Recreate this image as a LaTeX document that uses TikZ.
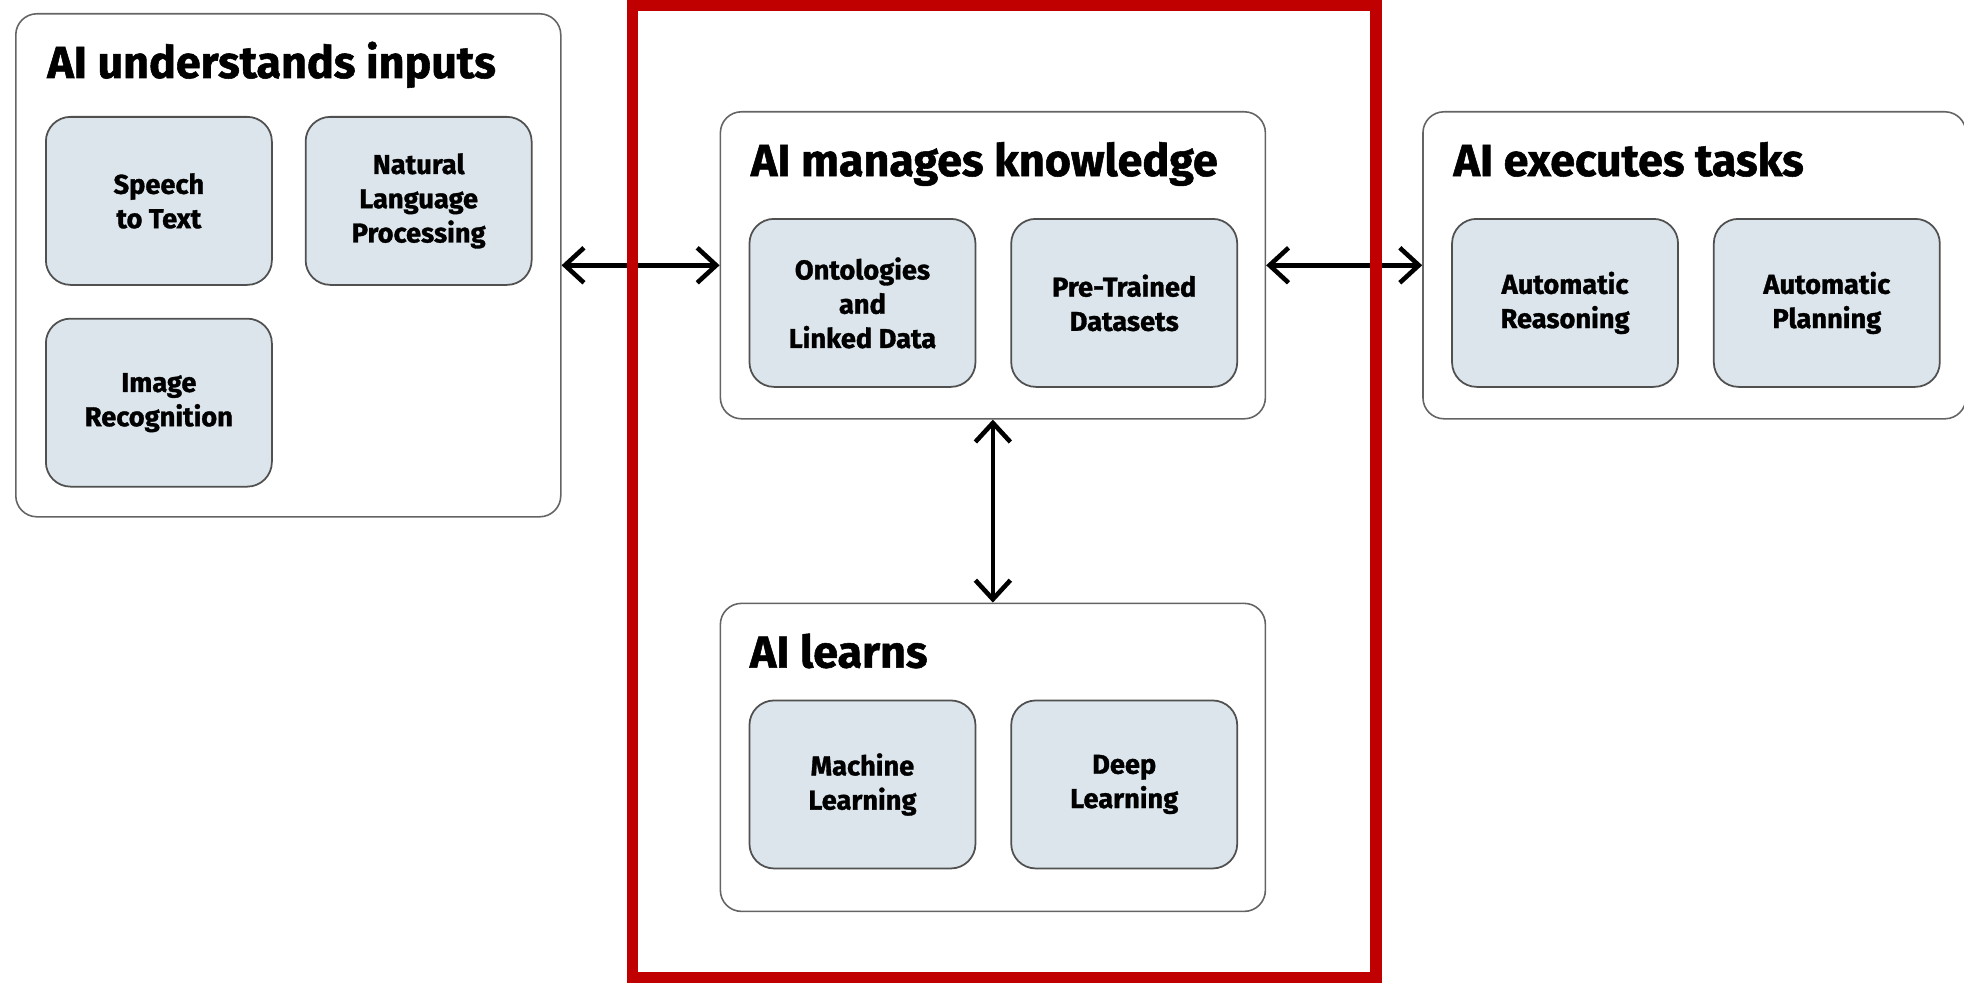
\documentclass[tikz,border=0pt]{standalone}
\usepackage{fontspec}
\setmainfont{Fira Sans}[BoldFeatures={FakeBold=1.2}]
\usetikzlibrary{arrows.meta,positioning,calc}
\definecolor{framered}{RGB}{192,0,0}
\definecolor{cardfill}{RGB}{219,229,235}
\definecolor{carddraw}{RGB}{80,80,80}
\definecolor{stagedraw}{RGB}{100,100,100}
\tikzset{
  stage/.style ={rectangle, rounded corners=12pt, draw=stagedraw, line width=0.9pt,
                 minimum width=10.9cm, minimum height=6.14cm, inner sep=0pt},
  card/.style  ={rectangle, rounded corners=14pt, draw=carddraw, fill=cardfill,
                 line width=1pt, align=center, minimum width=4.52cm,
                 minimum height=3.36cm, inner sep=2pt,
                 font=\fontsize{15.5}{19.5}\selectfont\bfseries},
  stitle/.style={anchor=base west, inner sep=0pt,
                 font=\fontsize{25.5}{30}\selectfont\bfseries},     % stage heading
  link/.style  ={<->, >={Straight Barb[length=3.8mm,width=7mm]},
                 line width=2.6pt, draw=black},
}

\begin{document}
\begin{tikzpicture}[node distance=6.4mm and 6.4mm]
  \useasboundingbox (0,0) rectangle (39.28,-19.66);
  % stages
  \node[stage, anchor=north west, minimum height=10.06cm] (inputs) at (0.30,-0.26) {};
  \node[stage, right=3.16cm of inputs]                     (knowl)  {};
  \node[stage, below=3.66cm of knowl, minimum height=6.16cm] (learns) {};
  \node[stage, right=3.12cm of knowl, minimum width=10.86cm] (tasks)  {};
  % headings
  \node[stitle] (tinputs) at ($(inputs.north west)+(0.64,-1.30)$) {AI understands inputs};
  \node[stitle] (tknowl)  at ($(knowl.north west)+(0.62,-1.30)$)  {AI manages knowledge};
  \node[stitle] (tlearns) at ($(learns.north west)+(0.60,-1.30)$) {AI learns};
  \node[stitle] (ttasks)  at ($(tasks.north west)+(0.62,-1.30)$)  {AI executes tasks};
  % cards
  \node[card, below right=2.06cm and 0.60cm of inputs.north west] (stt)  {Speech\\to Text};
  \node[card, right=of stt]                                      (nlp)  {Natural\\Language\\Processing};
  \node[card, below=of stt]                                      (imgr) {Image\\Recognition};
  \node[card, below right=2.14cm and 0.58cm of knowl.north west] (onto) {Ontologies\\and\\Linked Data};
  \node[card, right=6.8mm of onto]                               (ptd)  {Pre-Trained\\Datasets};
  \node[card, below right=1.94cm and 0.58cm of learns.north west] (ml)  {Machine\\Learning};
  \node[card, right=6.8mm of ml]                                 (dl)   {Deep\\Learning};
  \node[card, below right=2.14cm and 0.58cm of tasks.north west] (ar)   {Automatic\\Reasoning};
  \node[card, right=6.8mm of ar]                                 (ap)   {Automatic\\Planning};
  % links
  \draw[link] (inputs.east) -- (knowl.west);
  \draw[link] (knowl.east) -- (tasks.west);
  \draw[link] (knowl.south) -- (learns.north);
  % highlight
  \draw[framered, line width=6.3pt] (12.65,-0.10) rectangle (27.52,-19.56);
\end{tikzpicture}
\end{document}
